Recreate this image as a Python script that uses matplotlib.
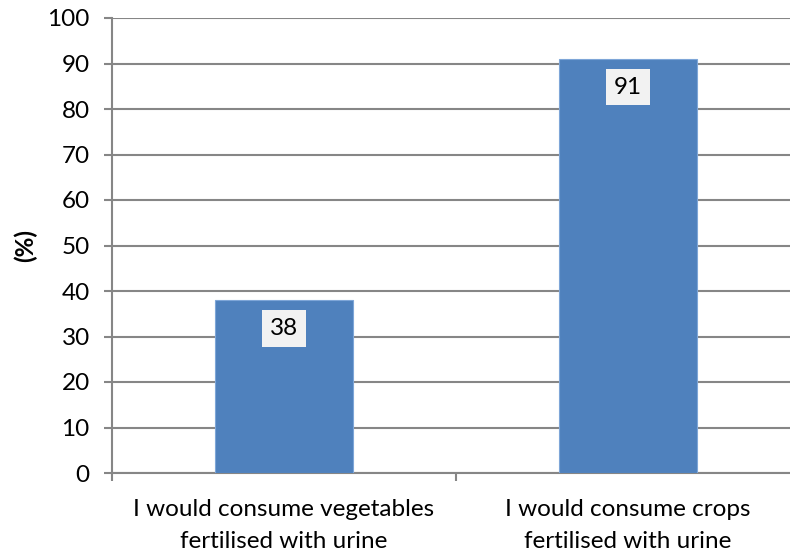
"""Bar chart: willingness to consume urine-fertilised produce"""
import matplotlib.pyplot as plt

categories = ["I would consume vegetables\nfertilised with urine",
              "I would consume crops\nfertilised with urine"]
values = [38, 91]
y_ticks = list(range(0, 101, 10))

plt.rcParams['font.family'] = ['Lato', 'DejaVu Sans']

fig = plt.figure(figsize=(7.9, 5.51), dpi=100)
ax = fig.add_axes([112 / 790, 78 / 551, 688 / 790, 455 / 551])

grid_col = "#868686"
fs = 17.5
bars = ax.bar(range(len(values)), values, width=0.4, color="#4f81bd",
              edgecolor="#7ea6d8", linewidth=0.8, zorder=3)

for bar, val in zip(bars, values):
  ax.text(bar.get_x() + bar.get_width() / 2, val - 6.2, str(val),
          ha="center", va="center", fontsize=fs, zorder=4,
          bbox=dict(boxstyle="square,pad=0.32", fc="#f2f2f2", ec="none"))

ax.set_xlim(-0.5, 1.5)
ax.set_ylim(0, 100)
ax.set_yticks(y_ticks)
ax.set_yticklabels([str(t) for t in y_ticks], fontsize=fs)
ax.yaxis.grid(True, color=grid_col, linewidth=1.5, zorder=0)
ax.set_axisbelow(True)

# category boundaries get tick marks, labels sit centred under each bar
ax.set_xticks([-0.5, 0.5, 1.5])
ax.set_xticklabels([])
ax.set_xticks([0, 1], minor=True)
ax.set_xticklabels(categories, minor=True, fontsize=fs, linespacing=1.62)
ax.tick_params(axis="x", which="minor", length=0, pad=19)
ax.tick_params(axis="x", which="major", length=5.5, width=1.5, color=grid_col)
ax.tick_params(axis="y", length=6, width=1.5, color=grid_col, pad=10)

for side in ["top", "right"]:
  ax.spines[side].set_visible(False)
for side in ["left", "bottom"]:
  ax.spines[side].set_color(grid_col)
  ax.spines[side].set_linewidth(1.5)

ax.set_ylabel("(%)", fontsize=fs, fontweight="bold", labelpad=7)

fig.savefig("out.png", dpi=100)
